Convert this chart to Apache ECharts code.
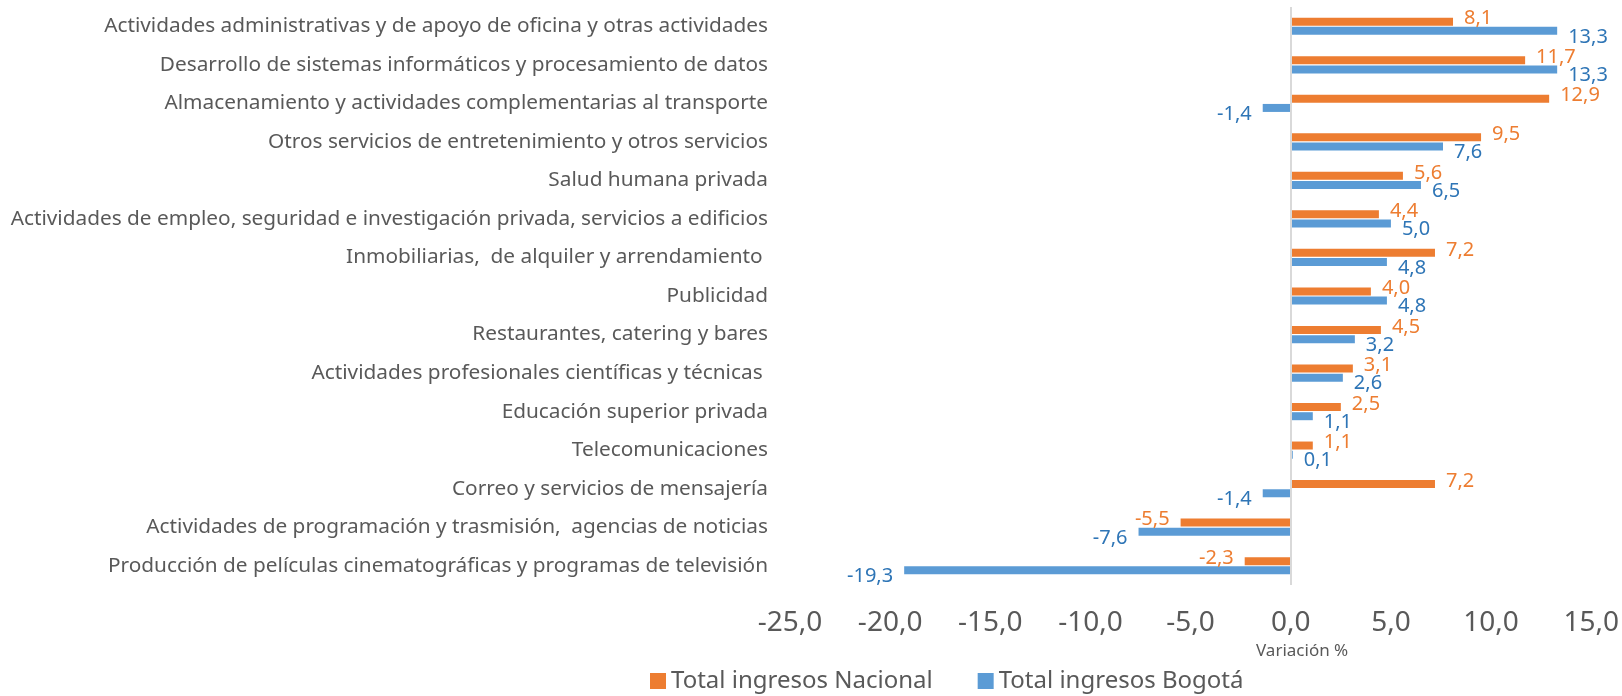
<!DOCTYPE html>
<html>
<head>
<meta charset="utf-8">
<title>Variación % ingresos</title>
<script src="https://cdn.jsdelivr.net/npm/echarts@6/dist/echarts.min.js"></script>
<style>
  html, body { margin: 0; padding: 0; background: #fff; }
  #chart { width: 1622px; height: 696px; }
</style>
</head>
<body>
<div id="chart"></div>
<script>
// categorías, de arriba hacia abajo
const categories = [
  "Actividades administrativas y de apoyo de oficina y otras actividades",
  "Desarrollo de sistemas informáticos y procesamiento de datos",
  "Almacenamiento y actividades complementarias al transporte",
  "Otros servicios de entretenimiento y otros servicios",
  "Salud humana privada",
  "Actividades de empleo, seguridad e investigación privada, servicios a edificios",
  "Inmobiliarias,  de alquiler y arrendamiento ",
  "Publicidad",
  "Restaurantes, catering y bares",
  "Actividades profesionales científicas y técnicas ",
  "Educación superior privada",
  "Telecomunicaciones",
  "Correo y servicios de mensajería",
  "Actividades de programación y trasmisión,  agencias de noticias",
  "Producción de películas cinematográficas y programas de televisión"
];
const nacional = [8.1, 11.7, 12.9, 9.5, 5.6, 4.4, 7.2, 4.0, 4.5, 3.1, 2.5, 1.1, 7.2, -5.5, -2.3];
const bogota = [13.3, 13.3, -1.4, 7.6, 6.5, 5.0, 4.8, 4.8, 3.2, 2.6, 1.1, 0.1, -1.4, -7.6, -19.3];
const xTicks = { min: -25, max: 15, step: 5 };

const FONT = "'Noto Sans', 'Open Sans', sans-serif";
const fmt = v => v.toFixed(1).replace(".", ",");

// las etiquetas negativas van a la izquierda de la barra
const withLabels = (values, color, dy) =>
  values.map(v => ({
    value: v,
    label: {
      position: v < 0 ? "left" : "right",
      offset: [0, dy],
      color: color
    }
  }));

const chart = echarts.init(document.getElementById("chart"));
chart.setOption({
  animation: false,
  textStyle: { fontFamily: FONT },
  grid: { left: 790, right: 24, top: 7, bottom: 111, containLabel: false },
  legend: {
    data: ["Total ingresos Nacional", "Total ingresos Bogotá"],
    left: 645,
    top: 664,
    icon: "rect",
    itemWidth: 16,
    itemHeight: 16,
    itemGap: 45,
    textStyle: { fontSize: 24, color: "#595959", fontFamily: FONT }
  },
  xAxis: {
    type: "value",
    min: xTicks.min,
    max: xTicks.max,
    interval: xTicks.step,
    axisLine: { show: false },
    axisTick: { show: false },
    splitLine: { show: false },
    axisLabel: {
      formatter: fmt,
      fontSize: 28,
      color: "#595959",
      margin: 24,
      fontFamily: FONT
    }
  },
  yAxis: {
    type: "category",
    data: categories,
    inverse: true,
    axisLine: { show: false },
    axisTick: { show: false },
    axisLabel: {
      fontSize: 20.8,
      color: "#595959",
      margin: 22,
      fontFamily: FONT
    }
  },
  graphic: [{
    type: "text",
    left: 1256,
    top: 643,
    style: { text: "Variación %", fontSize: 17, fill: "#595959", fontFamily: FONT }
  }],
  series: [
    {
      name: "Total ingresos Nacional",
      type: "bar",
      barWidth: 8,
      barGap: "15%",
      itemStyle: { color: "#ED7D31" },
      label: { show: true, distance: 11, fontSize: 20, formatter: p => fmt(p.value), fontFamily: FONT },
      data: withLabels(nacional, "#ED7D31", -3),
      markLine: {
        silent: true,
        symbol: "none",
        label: { show: false },
        lineStyle: { color: "#D9D9D9", width: 2, type: "solid" },
        data: [{ xAxis: 0 }]
      }
    },
    {
      name: "Total ingresos Bogotá",
      type: "bar",
      barWidth: 8,
      barGap: "15%",
      itemStyle: { color: "#5B9BD5" },
      label: { show: true, distance: 11, fontSize: 20, formatter: p => fmt(p.value), fontFamily: FONT },
      data: withLabels(bogota, "#2E75B6", 6)
    }
  ]
});
</script>
</body>
</html>
